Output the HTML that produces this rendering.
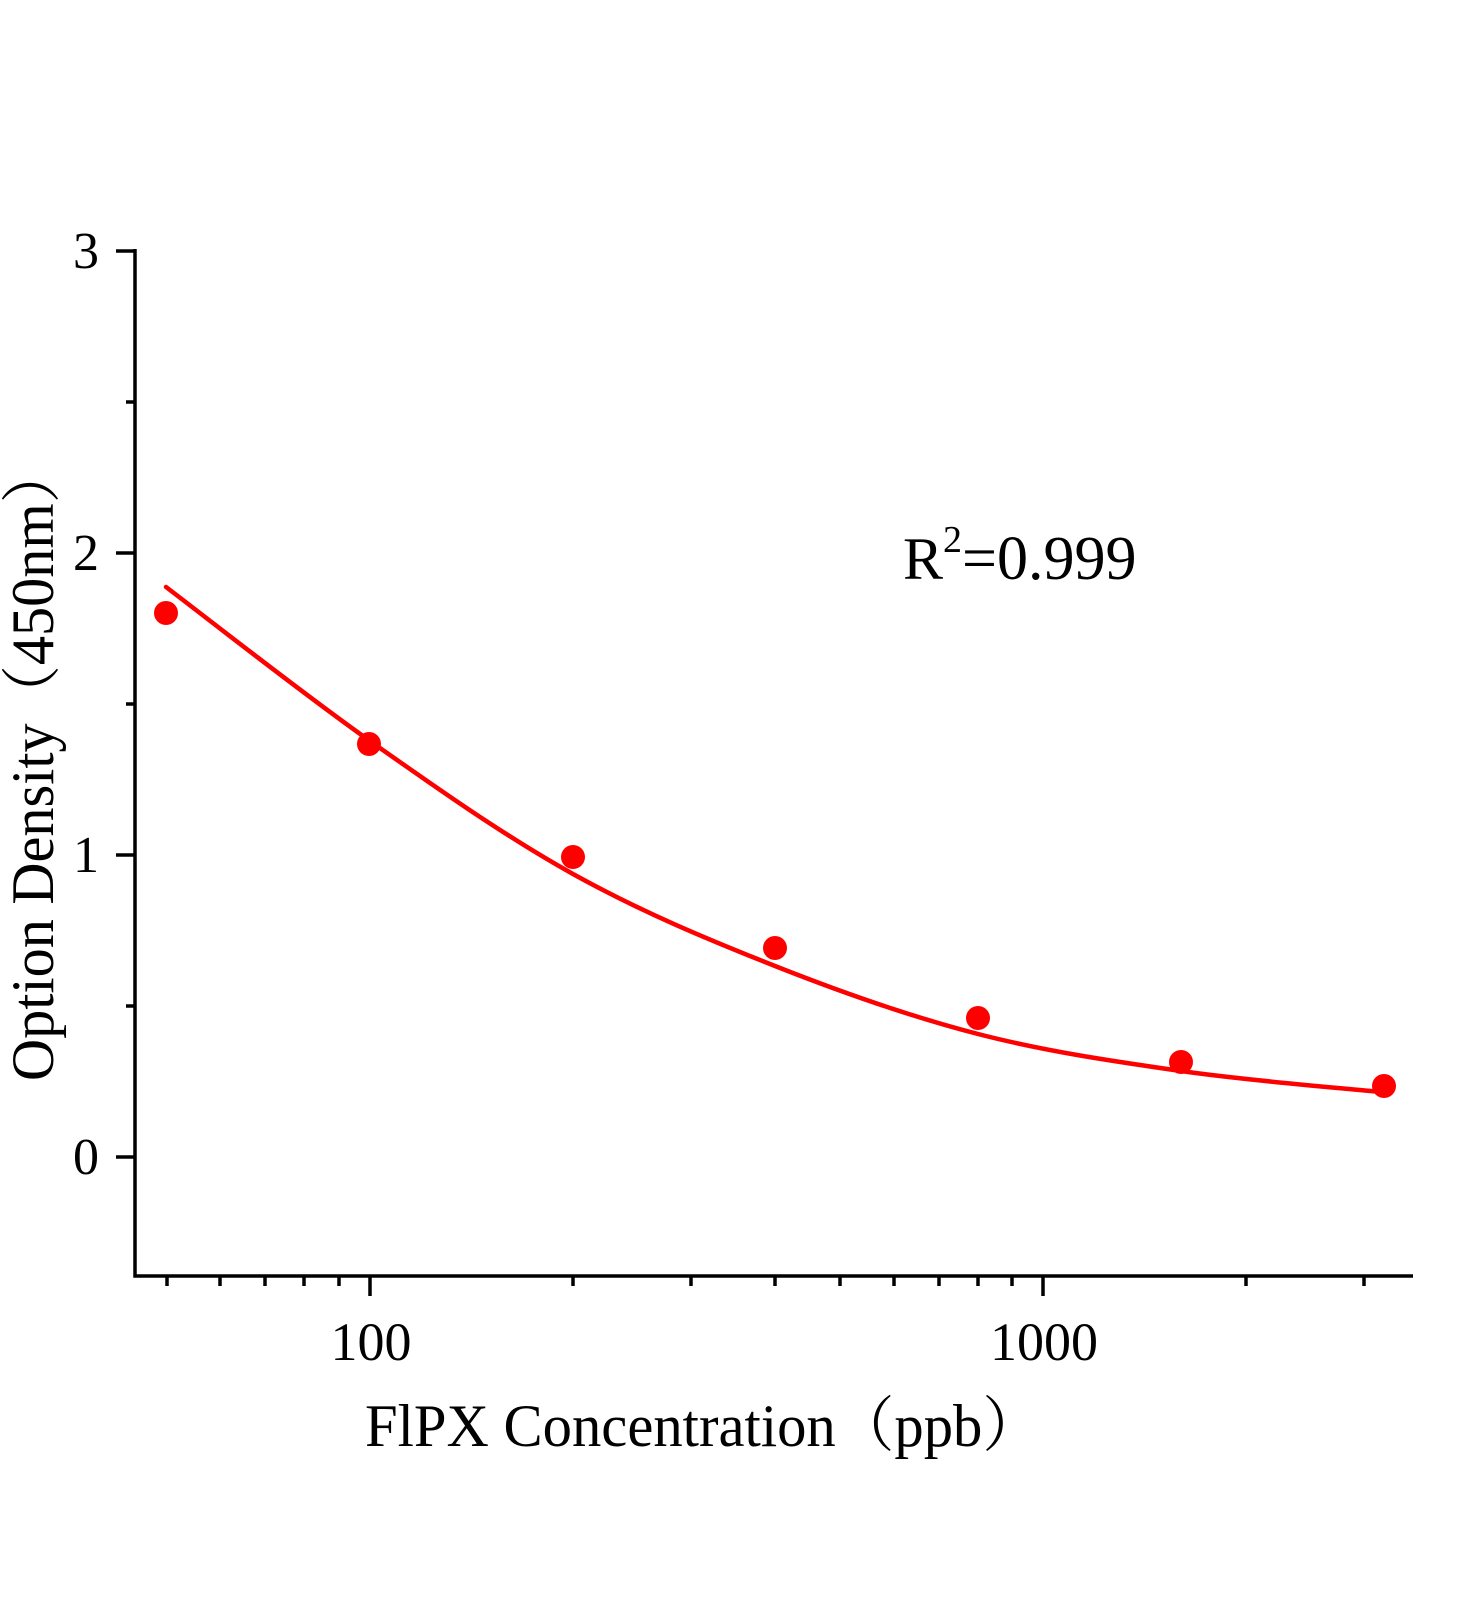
<!DOCTYPE html>
<html><head><meta charset="utf-8"><style>
html,body{margin:0;padding:0;background:#fff;}
svg{display:block;}
text{font-family:"Liberation Serif","Noto Serif CJK SC",serif;fill:#000;}
</style></head><body>
<svg width="1472" height="1600" viewBox="0 0 1472 1600" xmlns="http://www.w3.org/2000/svg">
<g stroke="#000" stroke-width="3.5" fill="none">
<path d="M135,249 L135,1276 L1413,1276"/>
<path d="M116,251 H135 M116,553 H135 M116,855 H135 M116,1157 H135"/>
<path d="M126,402 H135 M126,704 H135 M126,1006 H135"/>
<path d="M370,1276 V1296 M1043,1276 V1296"/>
<path d="M167,1276 V1286 M220,1276 V1286 M265,1276 V1286 M304,1276 V1286 M339,1276 V1286
M573,1276 V1286 M691,1276 V1286 M775,1276 V1286 M840,1276 V1286 M894,1276 V1286 M939,1276 V1286 M978,1276 V1286 M1012,1276 V1286
M1246,1276 V1286 M1364,1276 V1286"/>
</g>
<g font-size="52" text-anchor="end">
<text x="99" y="268">3</text>
<text x="99" y="570">2</text>
<text x="99" y="872">1</text>
<text x="99" y="1174">0</text>
</g>
<g font-size="54" text-anchor="middle">
<text x="371" y="1360">100</text>
<text x="1044" y="1360">1000</text>
</g>
<text x="365" y="1446" font-size="60" textLength="676" lengthAdjust="spacingAndGlyphs">FlPX Concentration（ppb）</text>
<text transform="translate(53,1081) rotate(-90)" font-size="60" textLength="636" lengthAdjust="spacingAndGlyphs">Option Density（450nm）</text>
<text x="903" y="579" font-size="60">R<tspan font-size="38" dy="-27">2</tspan><tspan dy="27" font-size="62">=0.999</tspan></text>
<path d="M166,587 C200,612.7 302.2,693.2 370,741 C437.8,788.8 505.5,836.5 573,874 C640.5,911.5 707.5,939.3 775,966 C842.5,992.7 910.3,1016.5 978,1034 C1045.7,1051.5 1114,1061.3 1181,1071 C1248,1080.7 1346.8,1088.5 1380,1092" stroke="#f00" stroke-width="4.5" fill="none" stroke-linecap="round"/>
<g fill="#f00">
<circle cx="166" cy="613" r="12"/>
<circle cx="369" cy="744" r="12"/>
<circle cx="573" cy="857" r="12"/>
<circle cx="775" cy="948" r="12"/>
<circle cx="978" cy="1018" r="12"/>
<circle cx="1181" cy="1062" r="12"/>
<circle cx="1384" cy="1086" r="12"/>
</g>
</svg>
</body></html>
